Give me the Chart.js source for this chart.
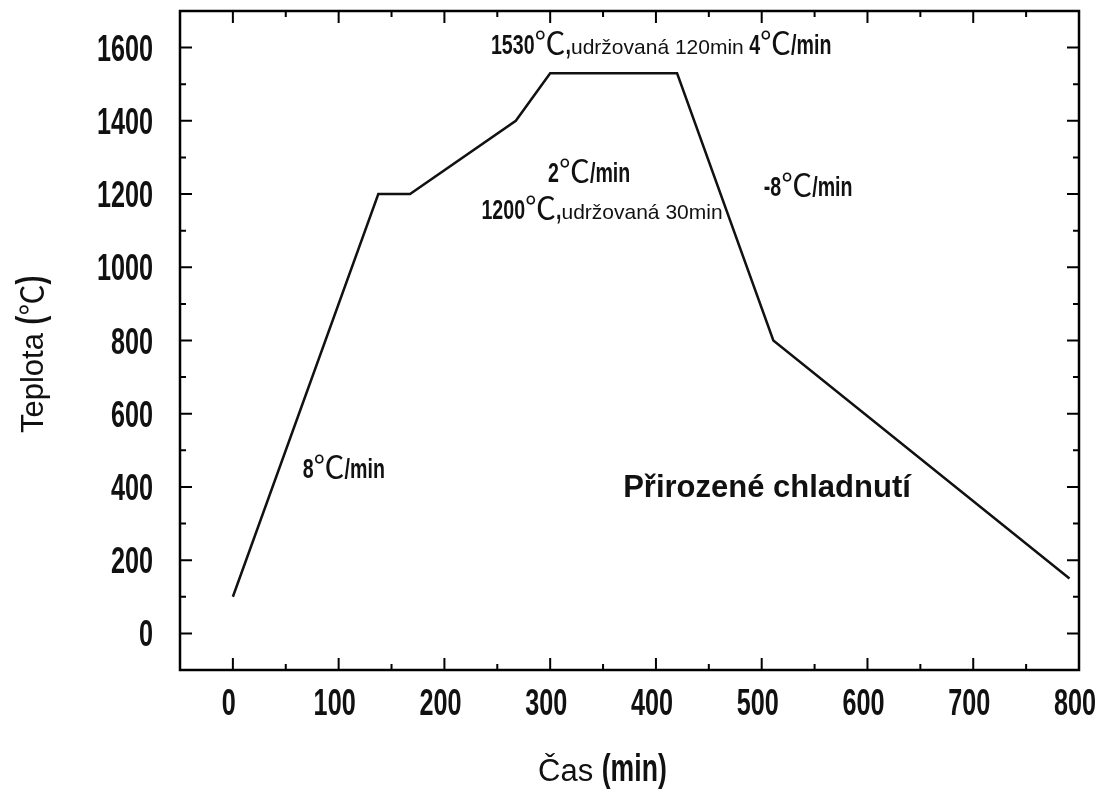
<!DOCTYPE html>
<html>
<head>
<meta charset="utf-8">
<script src="https://cdn.jsdelivr.net/npm/chart.js@4.4.1/dist/chart.umd.min.js"></script>
<style>
  body { margin: 0; background: #fff; }
  canvas { display: block; }
</style>
</head>
<body>
<canvas id="chartCanvas" width="1101" height="789"></canvas>
<script>
// heating profile
const times = [0, 137.5, 167.5, 267.5, 300, 420, 511, 791]
const temps = [100, 1200, 1200, 1400, 1530, 1530, 800, 150]
const xTicks = [0, 100, 200, 300, 400, 500, 600, 700, 800]
const yTicks = [0, 200, 400, 600, 800, 1000, 1200, 1400, 1600]

// condensed bold look: Liberation Sans Bold squeezed horizontally
const SQ = 0.7
const NUM = ['bold 28px "Liberation Sans"', SQ]
const DEG = ['31px "Noto Sans CJK SC"', 1]
const SMALL = ['21px "Liberation Sans"', 1]
const TICK = ['bold 36px "Liberation Sans"', SQ]

// annotations: [x, y, segments]
const notes = [
    [244, 1583, [['1530', NUM], ['℃', DEG], [',', NUM], ['udržovaná 120min', SMALL], [' 4', NUM], ['℃', DEG], ['/min', NUM]]],
    [298, 1233, [['2', NUM], ['℃', DEG], ['/min', NUM]]],
    [235, 1132, [['1200', NUM], ['℃', DEG], [',', NUM], ['udržovaná 30min', SMALL]]],
    [502, 1195, [['-8', NUM], ['℃', DEG], ['/min', NUM]]],
    [66, 425, [['8', NUM], ['℃', DEG], ['/min', NUM]]],
    [369, 373, [['Přirozené chladnutí', ['bold 31px "Liberation Sans"', 1]]]]
]

function drawRich(ctx, x, y, segs) {
    segs.forEach(([txt, [font, sx]]) => {
        ctx.font = font
        ctx.save()
        ctx.translate(x, y)
        ctx.scale(sx, 1)
        ctx.fillText(txt, 0, 0)
        ctx.restore()
        x += ctx.measureText(txt).width * sx
    })
}

function richWidth(ctx, segs) {
    let w = 0
    segs.forEach(([txt, [font, sx]]) => { ctx.font = font; w += ctx.measureText(txt).width * sx })
    return w
}

const frame = {
    id: 'frame',
    afterDatasetsDraw(chart) {
        const {ctx, chartArea: a, scales: {x, y}} = chart
        ctx.save()
        ctx.strokeStyle = '#000'
        ctx.lineWidth = 2.5
        ctx.strokeRect(a.left, a.top, a.right - a.left, a.bottom - a.top)
        ctx.lineWidth = 2
        ctx.beginPath()
        for (let v = 0; v <= 800; v += 50) {
            const len = v % 100 === 0 ? 12 : 6
            const px = x.getPixelForValue(v)
            ctx.moveTo(px, a.bottom); ctx.lineTo(px, a.bottom - len)
            ctx.moveTo(px, a.top); ctx.lineTo(px, a.top + len)
        }
        for (let v = 0; v <= 1600; v += 100) {
            const len = v % 200 === 0 ? 12 : 6
            const py = y.getPixelForValue(v)
            ctx.moveTo(a.left, py); ctx.lineTo(a.left + len, py)
            ctx.moveTo(a.right, py); ctx.lineTo(a.right - len, py)
        }
        ctx.stroke()

        ctx.fillStyle = '#111'
        ctx.textBaseline = 'alphabetic'
        ctx.textAlign = 'left'

        // tick labels
        xTicks.forEach(v => {
            const seg = [[String(v), TICK]]
            drawRich(ctx, x.getPixelForValue(v) - 4 - richWidth(ctx, seg) / 2, 715, seg)
        })
        yTicks.forEach(v => {
            const seg = [[String(v), TICK]]
            drawRich(ctx, a.left - 27 - richWidth(ctx, seg), y.getPixelForValue(v) + 13, seg)
        })

        notes.forEach(([nx, ny, segs]) => {
            drawRich(ctx, x.getPixelForValue(nx), y.getPixelForValue(ny), segs)
        })

        // axis titles
        const xt = [['Čas ', ['31px "Liberation Sans"', 1]], ['(min)', ['bold 38px "Liberation Sans"', SQ]]]
        drawRich(ctx, 538, 781, xt)

        const yt = [['Teplota ', ['31px "Liberation Sans"', 1]], ['(', ['bold 38px "Liberation Sans"', SQ]], ['℃', ['31px "Noto Sans CJK SC"', 1]], [')', ['bold 38px "Liberation Sans"', SQ]]]
        ctx.translate(43, 433)
        ctx.rotate(-Math.PI / 2)
        drawRich(ctx, 0, 0, yt)
        ctx.restore()
    }
}

const chart = new Chart(document.getElementById('chartCanvas'), {
    type: 'line',
    data: {
        datasets: [{
            data: times.map((t, i) => ({x: t, y: temps[i]})),
            borderColor: '#111',
            borderWidth: 2.5,
            pointRadius: 0,
            tension: 0
        }]
    },
    options: {
        responsive: false,
        animation: false,
        devicePixelRatio: 1,
        layout: { padding: { top: 11, right: 22, left: 0, bottom: 0 } },
        plugins: { legend: { display: false }, tooltip: { enabled: false } },
        scales: {
            x: {
                type: 'linear',
                min: -50,
                max: 800,
                afterBuildTicks: s => { s.ticks = xTicks.map(v => ({value: v})) },
                afterFit: s => { s.height = 119 },
                grid: { display: false },
                border: { display: false },
                ticks: { display: false }
            },
            y: {
                min: -100,
                max: 1700,
                afterBuildTicks: s => { s.ticks = yTicks.map(v => ({value: v})) },
                afterFit: s => { s.width = 180 },
                grid: { display: false },
                border: { display: false },
                ticks: { display: false }
            }
        }
    },
    plugins: [frame]
})
</script>
</body>
</html>
